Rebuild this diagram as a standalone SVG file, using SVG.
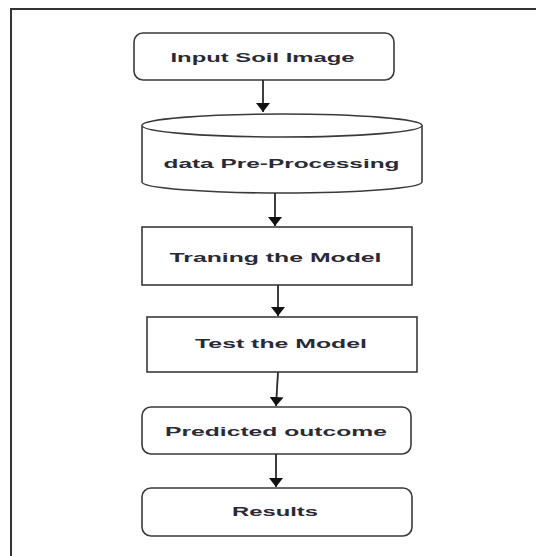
<svg xmlns="http://www.w3.org/2000/svg" width="536" height="556" viewBox="0 0 536 556">
<defs>
<style>
.shape{fill:#fff;stroke:#3a3a3a;stroke-width:1.6}
.lbl{font-family:"Liberation Sans",Arial,sans-serif;font-weight:bold;font-size:13.5px;fill:#2a2a36;text-anchor:middle;dominant-baseline:central}
.conn{stroke:#2a2a2a;stroke-width:1.8;fill:none}
</style>
<marker id="ah" viewBox="0 0 9 14" refX="9" refY="7" markerUnits="userSpaceOnUse" markerWidth="9" markerHeight="14" orient="auto">
<path d="M0,0 L9,7 L0,14 z" fill="#111"/>
</marker>
</defs>
<rect width="536" height="556" fill="#fff"/>
<rect x="11" y="9" width="600" height="600" fill="none" stroke="#333" stroke-width="2"/>
<g id="node-input">
<rect class="shape" x="134" y="33" width="260" height="47" rx="9"/>
<text class="lbl" x="262.5" y="57" textLength="184" lengthAdjust="spacingAndGlyphs">Input Soil Image</text>
</g>
<g id="node-preprocessing">
<path class="shape" d="M142,125.5 L142,182 A140,11 0 0 0 422,182 L422,125.5 A140,11.5 0 0 0 142,125.5 Z"/>
<path class="shape" d="M142,125.5 A140,11.5 0 0 0 422,125.5" fill="none"/>
<text class="lbl" x="281.5" y="163" textLength="236" lengthAdjust="spacingAndGlyphs">data Pre-Processing</text>
</g>
<g id="node-training">
<rect class="shape" x="142" y="227" width="270" height="58"/>
<text class="lbl" x="275.5" y="257" textLength="212" lengthAdjust="spacingAndGlyphs">Traning the Model</text>
</g>
<g id="node-test">
<rect class="shape" x="147" y="317" width="270" height="55"/>
<text class="lbl" x="281" y="343.5" textLength="172" lengthAdjust="spacingAndGlyphs">Test the Model</text>
</g>
<g id="node-predicted">
<rect class="shape" x="142" y="407" width="269" height="47" rx="9"/>
<text class="lbl" x="276" y="431" textLength="222" lengthAdjust="spacingAndGlyphs">Predicted outcome</text>
</g>
<g id="node-results">
<rect class="shape" x="142" y="488" width="270" height="48" rx="9"/>
<text class="lbl" x="275" y="511.5" textLength="86" lengthAdjust="spacingAndGlyphs">Results</text>
</g>
<g id="connectors">
<line class="conn" x1="263" y1="80" x2="263" y2="112" marker-end="url(#ah)"/>
<line class="conn" x1="275" y1="193" x2="275" y2="226" marker-end="url(#ah)"/>
<line class="conn" x1="278" y1="285" x2="278" y2="316" marker-end="url(#ah)"/>
<line class="conn" x1="278" y1="372" x2="276" y2="406" marker-end="url(#ah)"/>
<line class="conn" x1="276" y1="454" x2="276" y2="487" marker-end="url(#ah)"/>
</g>
</svg>
